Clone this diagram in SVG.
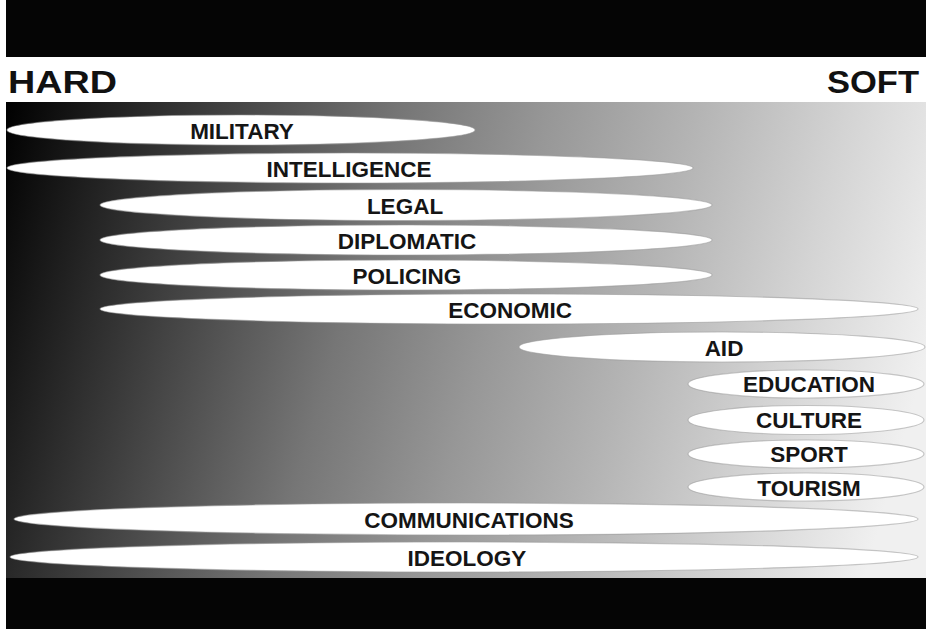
<svg xmlns="http://www.w3.org/2000/svg" width="926" height="629" viewBox="0 0 926 629">
  <defs>
    <!-- hard-to-soft shading: black at top-left fading to near white on the right -->
    <linearGradient id="spectrum" gradientUnits="userSpaceOnUse" x1="6" y1="102" x2="926" y2="360">
      <stop offset="0" stop-color="#000000"/>
      <stop offset="0.1" stop-color="#1e1e1e"/>
      <stop offset="0.25" stop-color="#4a4a4a"/>
      <stop offset="0.4" stop-color="#767676"/>
      <stop offset="0.55" stop-color="#979797"/>
      <stop offset="0.7" stop-color="#b4b4b4"/>
      <stop offset="0.85" stop-color="#d3d3d3"/>
      <stop offset="1" stop-color="#f0f0f0"/>
    </linearGradient>
  </defs>
  <style>
    .band { fill: #ffffff; stroke: #9a9a9a; stroke-opacity: 0.55; stroke-width: 1.2; }
    .label { font-family: "Liberation Sans", Arial, Helvetica, sans-serif; font-weight: bold; font-size: 22.5px; fill: #151515; text-anchor: middle; }
    .pole { font-family: "Liberation Sans", Arial, Helvetica, sans-serif; font-weight: bold; font-size: 32px; fill: #111111; }
  </style>

  <!-- background frame -->
  <rect x="0" y="0" width="926" height="629" fill="#ffffff"/>
  <rect x="6" y="0" width="920" height="57" fill="#050505"/>
  <rect x="6" y="578" width="920" height="51" fill="#050505"/>
  <rect x="6" y="102" width="920" height="476" fill="url(#spectrum)"/>

  <!-- axis ends -->
  <g id="axis">
    <text class="pole" x="8" y="93" textLength="109" lengthAdjust="spacingAndGlyphs">HARD</text>
    <text class="pole" x="827" y="93" textLength="92" lengthAdjust="spacingAndGlyphs">SOFT</text>
  </g>

  <g id="military">
    <ellipse class="band" cx="241" cy="130" rx="234" ry="15"/>
    <text class="label" x="242" y="138.5">MILITARY</text>
  </g>
  <g id="intelligence">
    <ellipse class="band" cx="350" cy="168" rx="343" ry="15"/>
    <text class="label" x="349" y="176.5">INTELLIGENCE</text>
  </g>
  <g id="legal">
    <ellipse class="band" cx="406" cy="205" rx="306" ry="15.5"/>
    <text class="label" x="405" y="213.5">LEGAL</text>
  </g>
  <g id="diplomatic">
    <ellipse class="band" cx="406" cy="240" rx="306" ry="15"/>
    <text class="label" x="407" y="248.5">DIPLOMATIC</text>
  </g>
  <g id="policing">
    <ellipse class="band" cx="406" cy="275" rx="306" ry="15"/>
    <text class="label" x="407" y="283.5">POLICING</text>
  </g>
  <g id="economic">
    <ellipse class="band" cx="509" cy="309" rx="409" ry="15"/>
    <text class="label" x="510" y="318">ECONOMIC</text>
  </g>
  <g id="aid">
    <ellipse class="band" cx="722" cy="347" rx="203" ry="15"/>
    <text class="label" x="724" y="355.5">AID</text>
  </g>
  <g id="education">
    <ellipse class="band" cx="806" cy="384" rx="118" ry="14"/>
    <text class="label" x="809" y="391.5">EDUCATION</text>
  </g>
  <g id="culture">
    <ellipse class="band" cx="806" cy="420" rx="118" ry="14.5"/>
    <text class="label" x="809" y="427.5">CULTURE</text>
  </g>
  <g id="sport">
    <ellipse class="band" cx="806" cy="454" rx="118" ry="14"/>
    <text class="label" x="809" y="462">SPORT</text>
  </g>
  <g id="tourism">
    <ellipse class="band" cx="806" cy="487" rx="118" ry="14"/>
    <text class="label" x="809" y="495.5">TOURISM</text>
  </g>
  <g id="communications">
    <ellipse class="band" cx="466" cy="519" rx="452" ry="16"/>
    <text class="label" x="469" y="527.5">COMMUNICATIONS</text>
  </g>
  <g id="ideology">
    <ellipse class="band" cx="464" cy="557" rx="454" ry="15"/>
    <text class="label" x="467" y="565.5">IDEOLOGY</text>
  </g>

  <!-- no connectors in this chart -->
  <g id="connectors"/>
</svg>
